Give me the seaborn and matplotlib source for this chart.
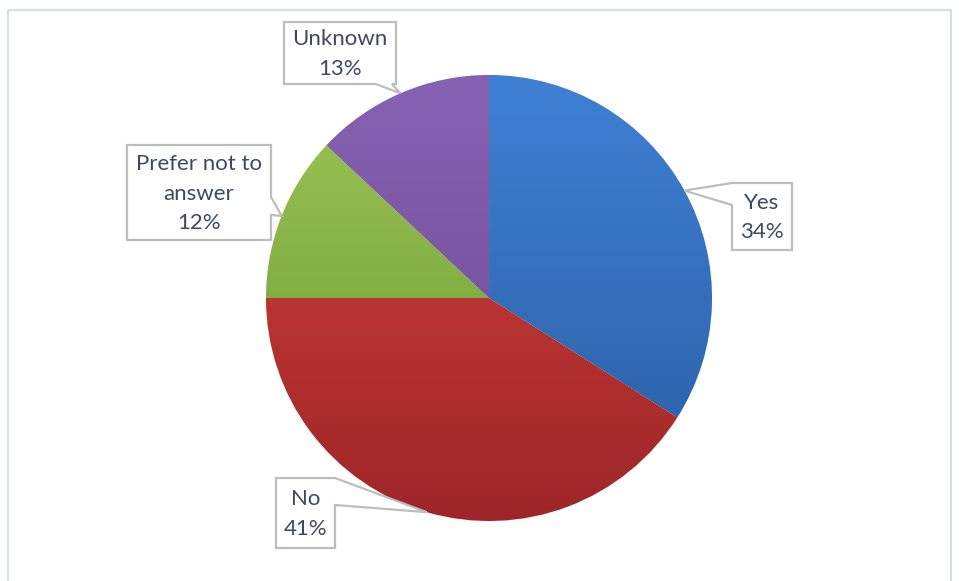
import numpy as np
import matplotlib
matplotlib.use("Agg")
import matplotlib.pyplot as plt
from matplotlib.colors import LinearSegmentedColormap
from matplotlib.patches import Polygon
import seaborn as sns

# Survey answers
categories = ["Yes", "No", "Prefer not to\nanswer", "Unknown"]
shares = [34, 41, 12, 13]
top_colors = ["#3F80D4", "#D4433D", "#9DC656", "#8762B2"]
bottom_colors = ["#2A5DA3", "#9E2628", "#6A9732", "#6A4894"]

sns.set_theme(style="white")
plt.rcParams["font.family"] = ["Lato", "DejaVu Sans"]

W, H = 959, 581
fig = plt.figure(figsize=(W / 100, H / 100), dpi=100)
fig.patch.set_facecolor("white")

# Pie axes in pixel-like units (y upward)
ax = fig.add_axes([0, 0, 1, 1])
cx, cy, r = 489, H - 298, 223
wedges, _ = ax.pie(shares, center=(cx, cy), radius=r, startangle=90,
                   counterclock=False, colors=top_colors,
                   wedgeprops=dict(edgecolor="white", linewidth=0.6))

# Vertical gradient fill for each slice
for w, c0, c1 in zip(wedges, top_colors, bottom_colors):
    cmap = LinearSegmentedColormap.from_list("g", [c1, c0])
    grad = np.linspace(0, 1, 256).reshape(-1, 1)
    im = ax.imshow(grad, cmap=cmap, origin="lower", aspect="auto",
                   extent=(cx - r, cx + r, cy - r, cy + r), zorder=1.5)
    im.set_clip_path(w)
    w.set_zorder(1)
ax.set_xlim(0, W)
ax.set_ylim(0, H)
ax.set_aspect("equal")
ax.axis("off")

# Callout boxes: (left, top, right, bottom) in pixels from top-left,
# plus the two base points of the pointer on the box outline
boxes = {
    "Yes": ((732, 183, 792, 250), [(732, 183), (732, 205)], 0),
    "No": ((276, 478, 335, 548), [(335, 478), (335, 505)], 1),
    "Prefer": ((127, 145, 271, 240), [(271, 197), (271, 215)], 2),
    "Unknown": ((284, 22, 396, 84), [(376, 84), (392, 84)], 3),
}

ov = fig.add_axes([0, 0, 1, 1], facecolor="none")
ov.set_xlim(0, W)
ov.set_ylim(H, 0)
ov.axis("off")

# Chart area border
ov.plot([8, 8, 951, 951], [H + 5, 10, 10, H + 5], color="#D3DEEA", lw=1.5,
        solid_capstyle="butt")

angles = []
start = 90.0
for s in shares:
    sweep = 360.0 * s / sum(shares)
    angles.append(start - sweep / 2)
    start -= sweep

edge = "#BDBDBD"
txt_color = "#3D4A5E"
for key, (box, base, idx) in boxes.items():
    l, t, rr, b = box
    a = np.deg2rad(angles[idx])
    tip = (cx + r * np.cos(a), 298 - r * np.sin(a))
    (x0, y0), (x1, y1) = base
    if x0 == l and x1 == l:          # left side
        pts = [(l, t), (rr, t), (rr, b), (l, b), (x1, y1), tip, (x0, y0)]
    elif x0 == rr and x1 == rr:      # right side
        pts = [(l, t), (rr, t), (x0, y0), tip, (x1, y1), (rr, b), (l, b)]
    else:                            # bottom side
        pts = [(l, t), (rr, t), (rr, b), (x1, y1), tip, (x0, y0), (l, b)]
    ov.add_patch(Polygon(pts, closed=True, facecolor="white", edgecolor=edge,
                         lw=1.6, joinstyle="miter", zorder=3))
    label = categories[idx]
    ov.text((l + rr) / 2, (t + b) / 2 + 1, f"{label}\n{shares[idx]}%",
            ha="center", va="center", fontsize=16, color=txt_color,
            linespacing=1.58, zorder=4)

fig.savefig("out.png", dpi=100, facecolor="white")
